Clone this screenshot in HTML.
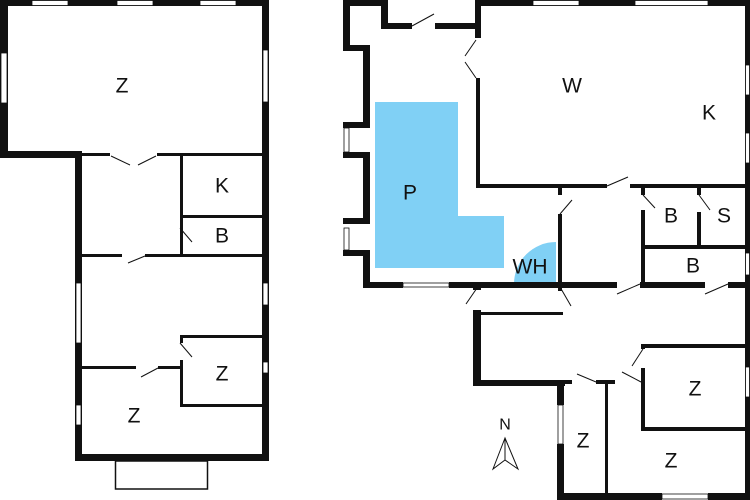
<!DOCTYPE html>
<html><head><style>body{margin:0;background:#fff}svg{display:block}text{font-family:"Liberation Sans",sans-serif;font-size:21px;fill:#111;text-anchor:middle;dominant-baseline:central}</style></head><body>
<svg width="750" height="500" viewBox="0 0 750 500" xmlns="http://www.w3.org/2000/svg">
<rect width="750" height="500" fill="#fff"/>
<!-- blue areas -->
<polygon points="375,102 458,102 458,216 504,216 504,268 375,268" fill="#80d0f5"/>
<path d="M514,284 A42,42 0 0 1 556,242 L556,284 Z" fill="#80d0f5"/>
<g fill="#111">
<!-- LEFT building -->
<rect x="0" y="0" width="268" height="6"/>
<rect x="0" y="0" width="8" height="157"/>
<rect x="0" y="151" width="82" height="7"/>
<rect x="82" y="153" width="28" height="3"/><rect x="157" y="153" width="105" height="3"/>
<rect x="262" y="0" width="7" height="461"/>
<rect x="75" y="151" width="7" height="310"/>
<rect x="75" y="454" width="194" height="7"/>
<rect x="180" y="155" width="3" height="100"/>
<rect x="180" y="215" width="82" height="3"/>
<rect x="82" y="254" width="40" height="3"/><rect x="145" y="254" width="117" height="3"/>
<rect x="180" y="335" width="82" height="3"/>
<rect x="180" y="335" width="3" height="8"/><rect x="180" y="360" width="3" height="47"/>
<rect x="180" y="404" width="82" height="3"/>
<rect x="82" y="366" width="54" height="3"/><rect x="158" y="366" width="23" height="3"/>
<!-- RIGHT building -->
<rect x="343" y="0" width="45" height="6"/>
<rect x="343" y="0" width="7" height="50"/>
<rect x="343" y="45" width="27" height="6"/>
<rect x="363" y="45" width="7" height="82"/>
<rect x="343" y="122" width="27" height="6"/>
<rect x="343" y="152" width="27" height="6"/>
<rect x="363" y="152" width="7" height="70"/>
<rect x="343" y="218" width="27" height="6"/>
<rect x="343" y="250" width="27" height="6"/>
<rect x="363" y="250" width="7" height="37"/>
<rect x="381" y="0" width="7" height="29"/>
<rect x="381" y="23" width="31" height="6"/><rect x="435" y="23" width="46" height="6"/>
<rect x="475" y="0" width="275" height="6"/>
<rect x="475" y="0" width="6" height="38"/>
<rect x="476" y="78" width="4" height="109"/>
<rect x="476" y="184" width="131" height="4"/><rect x="630" y="184" width="115" height="4"/>
<rect x="745" y="0" width="5" height="500"/>
<rect x="558" y="187" width="4" height="8"/><rect x="558" y="214" width="4" height="73"/>
<rect x="641" y="187" width="4" height="8"/><rect x="641" y="210" width="4" height="77"/>
<rect x="697" y="187" width="4" height="8"/><rect x="697" y="212" width="4" height="36"/>
<rect x="643" y="245" width="102" height="4"/>
<rect x="363" y="282" width="40" height="6"/><rect x="449" y="282" width="168" height="6"/>
<rect x="640" y="282" width="65" height="6"/><rect x="728" y="282" width="20" height="6"/>
<rect x="473" y="282" width="8" height="8"/>
<rect x="473" y="310" width="8" height="76"/>
<rect x="473" y="380" width="92" height="6"/>
<rect x="480" y="312" width="83" height="3"/>
<rect x="558" y="287" width="4" height="4"/>
<rect x="557" y="380" width="7" height="25"/><rect x="557" y="444" width="7" height="56"/>
<rect x="557" y="493" width="105" height="7"/><rect x="708" y="493" width="42" height="7"/>
<rect x="564" y="380" width="8" height="4"/>
<rect x="596" y="380" width="19" height="4"/>
<rect x="605" y="382" width="3" height="112"/>
<rect x="641" y="344" width="106" height="4"/>
<rect x="641" y="344" width="4" height="5"/><rect x="641" y="368" width="4" height="62"/>
<rect x="641" y="427" width="106" height="4"/>
</g>
<!-- windows (thin line gaps) -->
<g fill="#fff" stroke="#111" stroke-width="0.8">
<rect x="32" y="0.5" width="36" height="5"/><rect x="117" y="0.5" width="36" height="5"/><rect x="200" y="0.5" width="36" height="5"/>
<rect x="1" y="53" width="6" height="50"/><rect x="263" y="50" width="5" height="52"/>
<rect x="76" y="283" width="5" height="60"/><rect x="263" y="283" width="5" height="22"/>
<rect x="263" y="362" width="5" height="11"/><rect x="76" y="405" width="5" height="20"/>
<rect x="344" y="128" width="5" height="24"/><rect x="344" y="228" width="5" height="22"/>
<rect x="533" y="0.5" width="46" height="5"/><rect x="635" y="0.5" width="73" height="5"/>
<rect x="745.5" y="65" width="4" height="30"/><rect x="745.5" y="133" width="4" height="30"/><rect x="745.5" y="253" width="4" height="22"/>
<rect x="403" y="283" width="46" height="4"/>
<rect x="558" y="405" width="5" height="39"/><rect x="662" y="494" width="46" height="5"/>
<rect x="745.5" y="367" width="4" height="30"/>
</g>
<rect x="115.5" y="461" width="92" height="28" fill="none" stroke="#111" stroke-width="1.5"/>
<!-- door leaves -->
<g stroke="#111" stroke-width="1" fill="none">
<path d="M111,156 L130,165 M156,156 L138,165"/>
<path d="M180,228 L192,242"/><path d="M145,256 L128,263"/>
<path d="M180,343 L192,357"/><path d="M158,368 L141,377"/>
<path d="M412,26 L434,14"/><path d="M476,40 L465,56 M476,78 L465,62"/>
<path d="M607,186 L628,177"/><path d="M560,214 L572,200"/><path d="M643,195 L655,208"/><path d="M699,195 L710,210"/>
<path d="M617,294 L640,284"/><path d="M705,294 L728,284"/><path d="M477,288 L466,304"/><path d="M560,287 L571,306"/>
<path d="M643,349 L632,366"/><path d="M596,382 L577,374"/><path d="M641,382 L622,372"/>
<path d="M505,438 L493,469 L505,460 L518,469 Z M505,438 L505,460"/>
</g>
<text x="122" y="86">Z</text><text x="222" y="186">K</text><text x="222" y="236">B</text>
<text x="222" y="374">Z</text><text x="134" y="416">Z</text>
<text x="410" y="193">P</text><text x="572" y="86">W</text><text x="709" y="113">K</text>
<text x="671" y="216">B</text><text x="724" y="216">S</text><text x="693" y="266">B</text>
<text x="530" y="267">WH</text><text x="695" y="389">Z</text><text x="583" y="441">Z</text><text x="671" y="461">Z</text>
<text x="505" y="425" style="font-size:16px">N</text>
</svg>
</body></html>
